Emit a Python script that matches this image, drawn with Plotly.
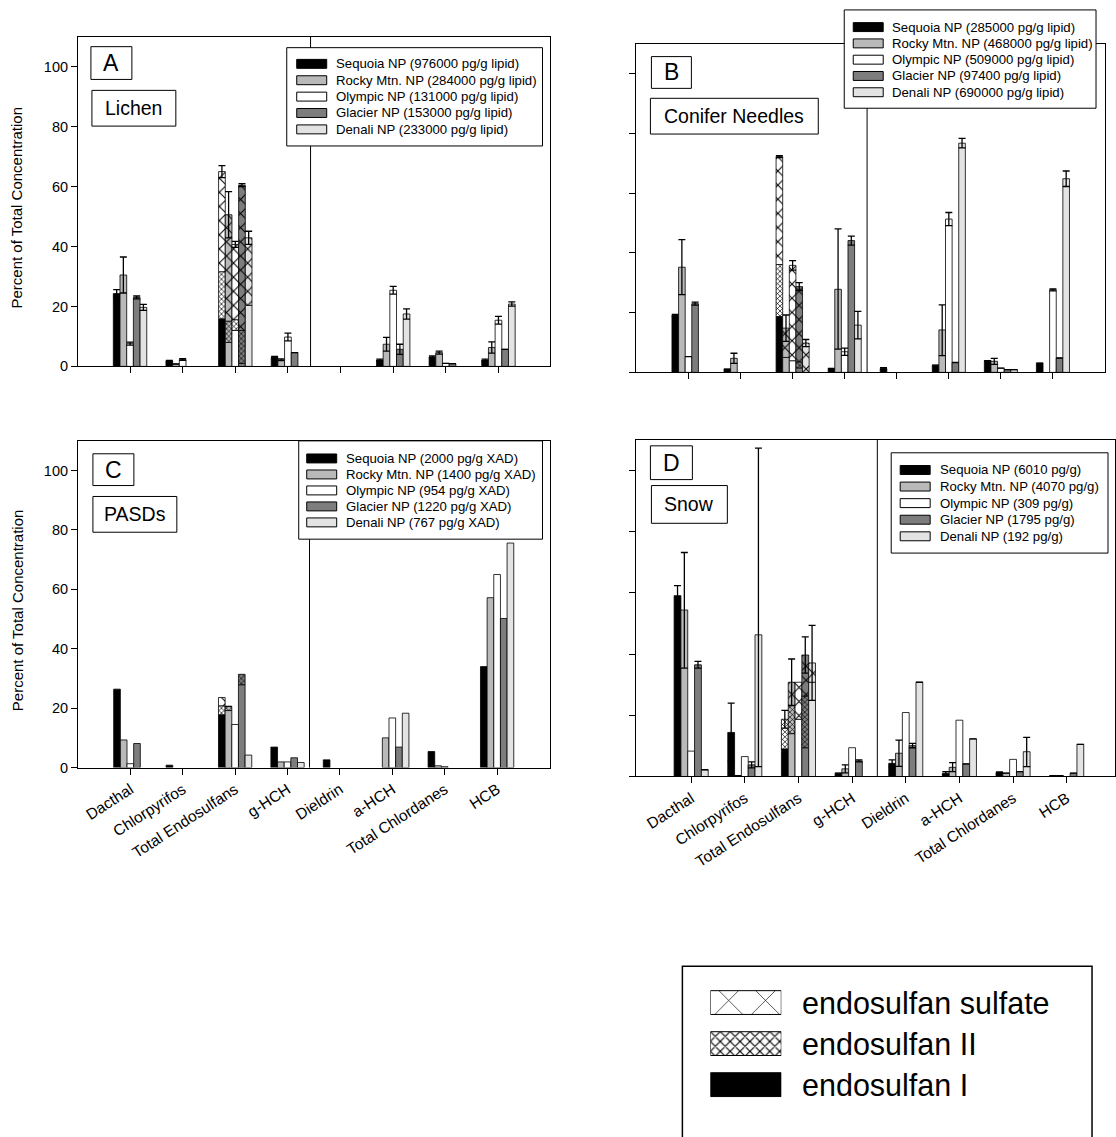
import plotly.graph_objects as go

W, H = 1116, 1137
FONT = "Liberation Sans, Arial, sans-serif"

categories = ["Dacthal", "Chlorpyrifos", "Total Endosulfans", "g-HCH",
              "Dieldrin", "a-HCH", "Total Chlordanes", "HCB"]
sites = ["Sequoia NP", "Rocky Mtn. NP", "Olympic NP", "Glacier NP", "Denali NP"]
site_colors = ["#000000", "#b9b9b9", "#ffffff", "#7d7d7d", "#e3e3e3"]
y_ticks = [0, 20, 40, 60, 80, 100]
endo_labels = ["endosulfan I", "endosulfan II", "endosulfan sulfate"]
ENDO = categories.index("Total Endosulfans")

# ---------------- Panel A : Lichen ----------------
lichen_conc = ["976000 pg/g lipid", "284000 pg/g lipid", "131000 pg/g lipid",
               "153000 pg/g lipid", "233000 pg/g lipid"]
lichen_pct = [
    [24.3, 1.8, 65.0, 3.0, 0, 2.1, 3.2, 2.1],
    [30.5, 0.8, 50.6, 2.2, 0, 7.4, 4.6, 6.3],
    [7.6, 2.3, 40.7, 9.8, 0, 25.4, 1.0, 15.4],
    [23.0, 0, 60.5, 4.6, 0, 5.7, 0.9, 5.7],
    [19.7, 0, 42.9, 0, 0, 17.5, 0, 20.8],
]
lichen_err_hi = [
    [1.3, 0.2, 2.0, 0.3, 0, 0.3, 0.3, 0.3],
    [6.0, 0, 7.7, 0.3, 0, 2.3, 0.5, 1.9],
    [0.5, 0.3, 1.0, 1.3, 0, 1.3, 0, 1.3],
    [0.5, 0, 0.5, 0, 0, 1.7, 0, 0],
    [1.0, 0, 2.2, 0, 0, 1.7, 0, 0.7],
]
lichen_err_lo = lichen_err_hi
lichen_endo_I = [15.9, 8.0, 12.0, 1.0, 20.4]
lichen_endo_II = [15.7, 7.1, 3.6, 11.0, 0]

# ---------------- Panel B : Conifer Needles ----------------
conifer_conc = ["285000 pg/g lipid", "468000 pg/g lipid", "509000 pg/g lipid",
                "97400 pg/g lipid", "690000 pg/g lipid"]
conifer_pct = [
    [19.1, 1.1, 72.2, 1.3, 1.3, 2.4, 3.9, 3.1],
    [35.2, 4.7, 14.8, 27.8, 0, 14.2, 3.7, 0],
    [5.3, 0, 35.8, 6.9, 0, 51.3, 1.4, 27.6],
    [23.0, 0, 28.7, 44.1, 0, 3.3, 0.9, 4.8],
    [0, 0, 9.8, 15.8, 0, 76.7, 0.9, 64.8],
]
conifer_err_hi = [
    [0.3, 0, 0.3, 0, 0.3, 0, 0, 0],
    [9.2, 1.7, 4.4, 20.2, 0, 8.4, 1.0, 0],
    [0, 0, 1.6, 1.2, 0, 2.2, 0, 0.3],
    [0.5, 0, 1.3, 1.5, 0, 0, 0, 0],
    [0, 0, 1.2, 4.6, 0, 1.6, 0, 2.6],
]
conifer_err_lo = [
    [0.3, 0, 0.3, 0, 0.3, 0, 0, 0],
    [9.2, 1.7, 4.4, 20.0, 0, 8.6, 1.0, 0],
    [0, 0, 1.6, 1.2, 0, 2.2, 0, 0.3],
    [0.5, 0, 1.3, 1.5, 0, 0, 0, 0],
    [0, 0, 1.2, 4.6, 0, 1.6, 0, 2.6],
]
conifer_endo_I = [18.7, 5.0, 3.9, 1.5, 0]
conifer_endo_II = [17.4, 0, 0, 2.0, 0]

# ---------------- Panel C : PASDs ----------------
pasd_conc = ["2000 pg/g XAD", "1400 pg/g XAD", "954 pg/g XAD",
             "1220 pg/g XAD", "767 pg/g XAD"]
pasd_pct = [
    [26.4, 0.8, 23.6, 6.9, 2.6, 0, 5.4, 34.0],
    [9.3, 0, 20.6, 1.9, 0, 10.0, 0.6, 57.2],
    [1.3, 0, 14.5, 1.9, 0, 16.7, 0.3, 65.0],
    [8.1, 0, 31.4, 3.3, 0, 6.9, 0, 50.2],
    [0, 0, 4.2, 1.7, 0, 18.3, 0, 75.6],
]
pasd_err_hi = [[0] * 8 for _ in sites]
pasd_err_lo = pasd_err_hi
pasd_endo_I = [17.8, 19.2, 14.5, 27.9, 4.2]
pasd_endo_II = [3.0, 1.4, 0, 3.5, 0]

# ---------------- Panel D : Snow ----------------
snow_conc = ["6010 pg/g", "4070 pg/g", "309 pg/g", "1795 pg/g", "192 pg/g"]
snow_pct = [
    [59.1, 14.4, 18.7, 1.1, 4.3, 1.1, 1.3, 0.3],
    [54.4, 0.3, 30.8, 2.5, 7.6, 3.0, 1.1, 0.3],
    [8.3, 6.5, 30.8, 9.4, 20.9, 18.4, 5.6, 0],
    [36.5, 3.8, 39.7, 5.1, 10.1, 4.1, 1.6, 1.1],
    [2.2, 46.3, 37.1, 0, 30.8, 12.3, 8.1, 10.5],
]
snow_err_hi = [
    [3.3, 9.6, 2.9, 0, 1.1, 0.5, 0.2, 0],
    [18.8, 0, 7.6, 1.3, 4.3, 1.5, 0, 0],
    [0, 0, 0, 0, 0, 0, 0, 0],
    [1.1, 1.0, 5.9, 0.3, 0.7, 0, 0, 0],
    [0, 61.0, 12.3, 0, 0, 0, 4.7, 0],
]
snow_err_lo = [
    [3.4, 9.5, 2.9, 0, 1.1, 0.5, 0.2, 0],
    [19.0, 0, 7.6, 1.3, 4.3, 1.4, 0, 0],
    [0, 0, 0, 0, 0, 0, 0, 0],
    [1.1, 1.0, 5.9, 0.3, 0.7, 0, 0, 0],
    [0, 43.1, 12.2, 0, 0, 0, 4.9, 0],
]
snow_endo_I = [9.0, 14.0, 18.7, 9.4, 30.8]
snow_endo_II = [9.7, 9.2, 0, 16.9, 0]


def px(x):
    return x / W


def py(y):
    return 1 - y / H


panels = [
    dict(letter="A", name="Lichen", conc=lichen_conc, pct=lichen_pct,
         hi=lichen_err_hi, lo=lichen_err_lo, e1=lichen_endo_I, e2=lichen_endo_II,
         dom_x=(78, 550), dom_y=(37, 369), xr=(-0.99, 7.97), div=3.43,
         labels_x=False, labels_y=True,
         letter_box=(91, 47, 132, 80), name_box=(92, 91, 176, 127),
         leg_box=(287, 48, 543, 147), sw=(297, 327), tx=334, row0=64.3, step=16.5),
    dict(letter="B", name="Conifer Needles", conc=conifer_conc, pct=conifer_pct,
         hi=conifer_err_hi, lo=conifer_err_lo, e1=conifer_endo_I, e2=conifer_endo_II,
         dom_x=(637, 1106), dom_y=(44, 375), xr=(-1.0, 8.0), div=3.43,
         labels_x=False, labels_y=False,
         letter_box=(652, 57, 692, 89), name_box=(651, 99, 819, 135),
         leg_box=(845, 10, 1097, 109), sw=(854, 884), tx=891, row0=27.3, step=16.4),
    dict(letter="C", name="PASDs", conc=pasd_conc, pct=pasd_pct,
         hi=pasd_err_hi, lo=pasd_err_lo, e1=pasd_endo_I, e2=pasd_endo_II,
         dom_x=(78, 550), dom_y=(444, 773), xr=(-1.0, 8.0), div=3.42,
         labels_x=True, labels_y=True,
         letter_box=(93, 457, 134, 489), name_box=(93, 500, 177, 536),
         leg_box=(299, 444, 543, 543), sw=(307, 337), tx=344, row0=461.7, step=16.1),
    dict(letter="D", name="Snow", conc=snow_conc, pct=snow_pct,
         hi=snow_err_hi, lo=snow_err_lo, e1=snow_endo_I, e2=snow_endo_II,
         dom_x=(637, 1116), dom_y=(443, 782), xr=(-1.02, 7.9), div=3.47,
         labels_x=True, labels_y=False,
         letter_box=(651, 449, 693, 483), name_box=(652, 489, 728, 527),
         leg_box=(892, 456, 1109, 557), sw=(901, 931), tx=939, row0=473.3, step=16.7),
]

fig = go.Figure()
BW = 0.127
shapes = []
annotations = []


def nz(v):
    return None if not v else v


for k, p in enumerate(panels):
    sfx = "" if k == 0 else str(k + 1)
    xa, ya = "x" + sfx, "y" + sfx
    for s, site in enumerate(sites):
        off = (s - 2.5) * BW
        vals = p["pct"][s]
        main_y = [None if (j == ENDO or not v) else v for j, v in enumerate(vals)]
        hi = [None if j == ENDO else nz(e) for j, e in enumerate(p["hi"][s])]
        lo = [None if j == ENDO else nz(e) for j, e in enumerate(p["lo"][s])]
        has_err = any(e for e in p["hi"][s])
        fig.add_trace(go.Bar(
            x=categories, y=main_y, offset=off, width=BW, xaxis=xa, yaxis=ya,
            name=site, showlegend=False,
            marker=dict(color=site_colors[s], line=dict(color="black", width=0.8)),
            error_y=dict(type="data", symmetric=False, array=hi, arrayminus=lo,
                         color="black", thickness=1.3, width=3.5, visible=has_err),
        ))
        # endosulfan stack: I (solid), II (dense crosshatch), sulfate (large X)
        total = vals[ENDO]
        e1, e2 = p["e1"][s], p["e2"][s]
        parts = [e1, e2, max(total - e1 - e2, 0)]
        bases = [0, e1, e1 + e2]
        top_idx = max(i for i in range(3) if parts[i] > 0)
        pat_bg = "#ffffff" if s == 0 else site_colors[s]
        for i in range(3):
            if parts[i] <= 0:
                continue
            if i == 0:
                mk = dict(color=site_colors[s], line=dict(color="black", width=0.8))
            elif i == 1:
                mk = dict(color=pat_bg, line=dict(color="black", width=0.8),
                          pattern=dict(shape="x", size=3.5, solidity=0.35,
                                       fgcolor="black", bgcolor=pat_bg, fillmode="replace"))
            else:
                mk = dict(color=pat_bg, line=dict(color="black", width=0.8),
                          pattern=dict(shape="x", size=10, solidity=0.2,
                                       fgcolor="black", bgcolor=pat_bg, fillmode="replace"))
            err = dict(visible=False)
            if i == top_idx and p["hi"][s][ENDO]:
                err = dict(type="data", symmetric=False, array=[p["hi"][s][ENDO]],
                           arrayminus=[p["lo"][s][ENDO]], color="black",
                           thickness=1.3, width=3.5, visible=True)
            fig.add_trace(go.Bar(
                x=[categories[ENDO]], y=[parts[i]], base=[bases[i]], offset=off, width=BW,
                xaxis=xa, yaxis=ya, name=f"{site} {endo_labels[i]}", showlegend=False,
                marker=mk, error_y=err,
            ))

    axis_common = dict(showline=True, linecolor="black", linewidth=1, mirror=True,
                       ticks="outside", ticklen=6, tickcolor="black", showgrid=False,
                       zeroline=False)
    fig.update_layout(**{
        ("xaxis" + sfx): dict(axis_common, anchor=ya, domain=[px(p["dom_x"][0]), px(p["dom_x"][1])],
                              type="category", categoryorder="array", categoryarray=categories,
                              range=list(p["xr"]), showticklabels=p["labels_x"], tickangle=-33,
                              tickfont=dict(family=FONT, size=15.5, color="black")),
        ("yaxis" + sfx): dict(axis_common, anchor=xa, domain=[py(p["dom_y"][1]), py(p["dom_y"][0])],
                              range=[0, 110], tickvals=y_ticks, showticklabels=p["labels_y"],
                              tickfont=dict(family=FONT, size=14.5, color="black")),
    })
    # divider line between the two groups of compounds
    shapes.append(dict(type="line", xref=xa, yref=ya + " domain", x0=p["div"], x1=p["div"],
                       y0=0, y1=1, line=dict(color="black", width=1)))
    # letter and name boxes
    for box, txt, size in [(p["letter_box"], p["letter"], 23), (p["name_box"], p["name"], 19.5)]:
        shapes.append(dict(type="rect", xref="paper", yref="paper",
                           x0=px(box[0]), x1=px(box[2]), y0=py(box[3]), y1=py(box[1]),
                           line=dict(color="black", width=1), fillcolor="white"))
        annotations.append(dict(xref="paper", yref="paper", x=px((box[0] + box[2]) / 2),
                                y=py((box[1] + box[3]) / 2), text=txt, showarrow=False,
                                xanchor="center", yanchor="middle",
                                font=dict(family=FONT, size=size, color="black")))
    # site legend
    lb = p["leg_box"]
    shapes.append(dict(type="rect", xref="paper", yref="paper",
                       x0=px(lb[0]), x1=px(lb[2]), y0=py(lb[3]), y1=py(lb[1]),
                       line=dict(color="black", width=1), fillcolor="white"))
    for s, site in enumerate(sites):
        ry = p["row0"] + s * p["step"]
        shapes.append(dict(type="rect", xref="paper", yref="paper",
                           x0=px(p["sw"][0]), x1=px(p["sw"][1]), y0=py(ry + 4.5), y1=py(ry - 4.5),
                           line=dict(color="black", width=1), fillcolor=site_colors[s]))
        annotations.append(dict(xref="paper", yref="paper", x=px(p["tx"]), y=py(ry),
                                text=f"{site} ({p['conc'][s]})", showarrow=False,
                                xanchor="left", yanchor="middle",
                                font=dict(family=FONT, size=13.2, color="black")))
    if p["labels_y"]:
        cy = (p["dom_y"][0] + p["dom_y"][1]) / 2 + 6
        annotations.append(dict(xref="paper", yref="paper", x=px(17), y=py(cy),
                                text="Percent of Total Concentration", textangle=-90,
                                showarrow=False, xanchor="center", yanchor="middle",
                                font=dict(family=FONT, size=15, color="black")))

# ---------------- endosulfan pattern legend ----------------
leg_rows = [2, 1, 0]  # sulfate on top, then II, then I
leg_patterns = [
    dict(shape="x", size=26, solidity=0.05, fgcolor="black", bgcolor="white", fillmode="replace"),
    dict(shape="x", size=7, solidity=0.3, fgcolor="black", bgcolor="white", fillmode="replace"),
    None,
]
leg_names = ["endosulfan sulfate", "endosulfan II", "endosulfan I"]
for i, nm in enumerate(leg_names):
    mk = dict(color="black" if leg_patterns[i] is None else "white",
              line=dict(color="black", width=1))
    if leg_patterns[i] is not None:
        mk["pattern"] = leg_patterns[i]
    fig.add_trace(go.Bar(x=[1], y=[leg_rows[i]], orientation="h", width=0.58, base=0,
                         xaxis="x5", yaxis="y5", marker=mk, showlegend=False, name=nm))
    annotations.append(dict(xref="paper", yref="y5", x=px(801), y=leg_rows[i], text=nm,
                            showarrow=False, xanchor="left", yanchor="middle",
                            font=dict(family=FONT, size=30.5, color="black")))
fig.update_layout(
    xaxis5=dict(domain=[px(711), px(782)], range=[0, 1], visible=False, anchor="y5"),
    yaxis5=dict(domain=[py(1113), py(989)], range=[-0.5, 2.5], visible=False, anchor="x5"),
)
shapes.append(dict(type="rect", xref="paper", yref="paper", x0=px(683), x1=px(1093),
                   y0=py(1150), y1=py(973), line=dict(color="black", width=1.5),
                   fillcolor="rgba(0,0,0,0)", layer="below"))

fig.update_layout(
    width=W, height=H, margin=dict(l=0, r=0, t=0, b=0),
    paper_bgcolor="white", plot_bgcolor="white", barmode="overlay",
    shapes=shapes, annotations=annotations, showlegend=False,
    font=dict(family=FONT, color="black"),
)

fig.write_html("out.html", config={"displayModeBar": False},
               post_script="document.body.style.margin='0';document.body.style.overflow='hidden';")
